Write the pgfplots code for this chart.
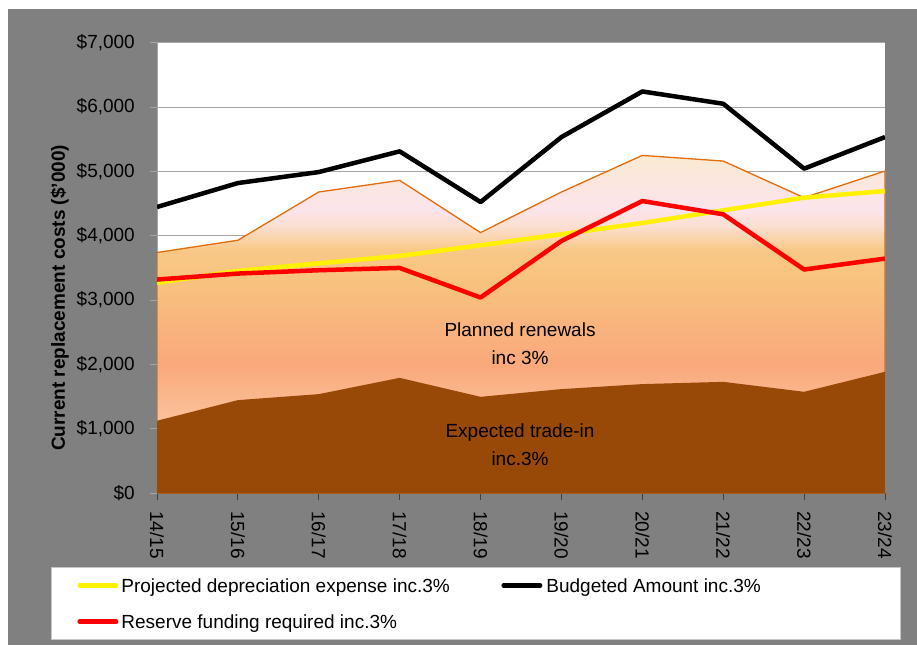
\documentclass[border=0pt]{standalone}
\usepackage{pgfplots}
\pgfplotsset{compat=1.18}
\usepackage{fontspec}
\setmainfont{Liberation Sans}
\definecolor{bggrey}{HTML}{808080}
\definecolor{gridgrey}{HTML}{A6A6A6}
\definecolor{axisdark}{HTML}{404040}
\definecolor{orangeline}{HTML}{E46C0A}
\definecolor{tradein}{HTML}{984807}
\definecolor{sh0}{HTML}{FBC9A0}
\definecolor{sh1}{HTML}{FBC19A}
\definecolor{sh2}{HTML}{F9A97B}
\definecolor{sh3}{HTML}{F9B47D}
\definecolor{sh4}{HTML}{F8C27E}
\definecolor{sh5}{HTML}{F9C886}
\definecolor{sh6}{HTML}{FBDFD0}
\definecolor{sh7}{HTML}{FCE4EC}
\definecolor{sh8}{HTML}{FBEAD2}
\pgfdeclareverticalshading{renew}{100bp}{color(0bp)=(sh0); color(25bp)=(sh0); color(36bp)=(sh1); color(44bp)=(sh2); color(50bp)=(sh3); color(56bp)=(sh4); color(61bp)=(sh5); color(64.5bp)=(sh6); color(67bp)=(sh7); color(75bp)=(sh8); color(100bp)=(sh8)}
\begin{document}
\fontsize{19}{22.8}\selectfont
\begin{tikzpicture}
\path[use as bounding box] (0,0) rectangle (917pt,645pt);
\fill[white] (0,0) rectangle (917pt,645pt);
\fill[bggrey] (8pt,0) rectangle (917pt,636pt);
\begin{axis}[
  at={(157pt,152pt)}, anchor=south west,
  scale only axis, width=728pt, height=450.3pt,
  xmin=0, xmax=9, ymin=0, ymax=7000,
  axis background/.style={fill=white},
  axis x line*=bottom, axis y line*=left,
  x axis line style={draw=axisdark, line width=1pt},
  y axis line style={draw=gridgrey, line width=1pt},
  tick align=outside, major tick length=7pt,
  xtick={0,...,9},
  xticklabels={14/15,15/16,16/17,17/18,18/19,19/20,20/21,21/22,22/23,23/24},
  ytick={0,1000,...,7000},
  yticklabels={\$0,{\$1,000},{\$2,000},{\$3,000},{\$4,000},{\$5,000},{\$6,000},{\$7,000}},
  x tick style={draw=axisdark, line width=1pt},
  y tick style={draw=gridgrey, line width=1pt},
  xticklabel style={rotate=-90, anchor=west, inner sep=0pt, text height=13.6pt, text depth=0pt, xshift=11pt},
  yticklabel style={anchor=east, inner sep=0pt, xshift=-15pt},
  ymajorgrids, grid style={draw=gridgrey, line width=1pt},
  ylabel={\bfseries Current replacement costs (\$'000)},
  ylabel style={at={(axis description cs:-0.1264,0.4333)}, anchor=base, rotate=0},
  legend columns=2,
  legend cell align=left,
  legend image code/.code={\draw[#1, line cap=round] (2.25pt,0pt) -- (38.75pt,0pt);},
  legend style={at={(-0.1456,-0.1644)}, anchor=north west, draw=gray!45, line width=0.8pt, fill=white,
    inner xsep=26pt, inner ysep=11.2pt, row sep=22.4pt, column sep=0pt,
    nodes={inner sep=0pt, text height=13.6pt, text depth=0pt}},
]
\addplot[draw=orangeline, line width=1.3pt, shade, shading=renew, forget plot] coordinates {
 (0,3738) (1,3929) (2,4679) (3,4860) (4,4048) (5,4679) (6,5248) (7,5160) (8,4591) (9,5005)} \closedcycle;
\addplot[draw=none, fill=tradein, forget plot] coordinates {
 (0,1123) (1,1444) (2,1537) (3,1790) (4,1495) (5,1615) (6,1693) (7,1728) (8,1573) (9,1884)} \closedcycle;
\addplot[color=yellow, line width=4.5pt, line join=round] coordinates {
 (0,3266) (1,3452) (2,3570) (3,3685) (4,3851) (5,4022) (6,4197) (7,4394) (8,4591) (9,4694)};
\addlegendentry{\makebox[383pt][l]{\hspace{3pt}Projected depreciation expense inc.3\%}}
\addplot[color=black, line width=4.5pt, line join=round] coordinates {
 (0,4446) (1,4818) (2,4989) (3,5311) (4,4523) (5,5533) (6,6242) (7,6051) (8,5042) (9,5533)};
\addlegendentry{\makebox[332pt][l]{\hspace{4pt}Budgeted Amount inc.3\%}}
\addplot[color=red, line width=4.5pt, line join=round] coordinates {
 (0,3318) (1,3411) (2,3463) (3,3499) (4,3039) (5,3918) (6,4539) (7,4332) (8,3474) (9,3644)};
\addlegendentry{\makebox[383pt][l]{\hspace{3pt}Reserve funding required inc.3\%}}
\node[align=center, font=\fontsize{19}{28}\selectfont] at (axis cs:4.488,2316) {Planned renewals\\inc 3\%};
\node[align=center, font=\fontsize{19}{28}\selectfont] at (axis cs:4.488,754) {Expected trade-in\\inc.3\%};
\end{axis}
\end{tikzpicture}
\end{document}
